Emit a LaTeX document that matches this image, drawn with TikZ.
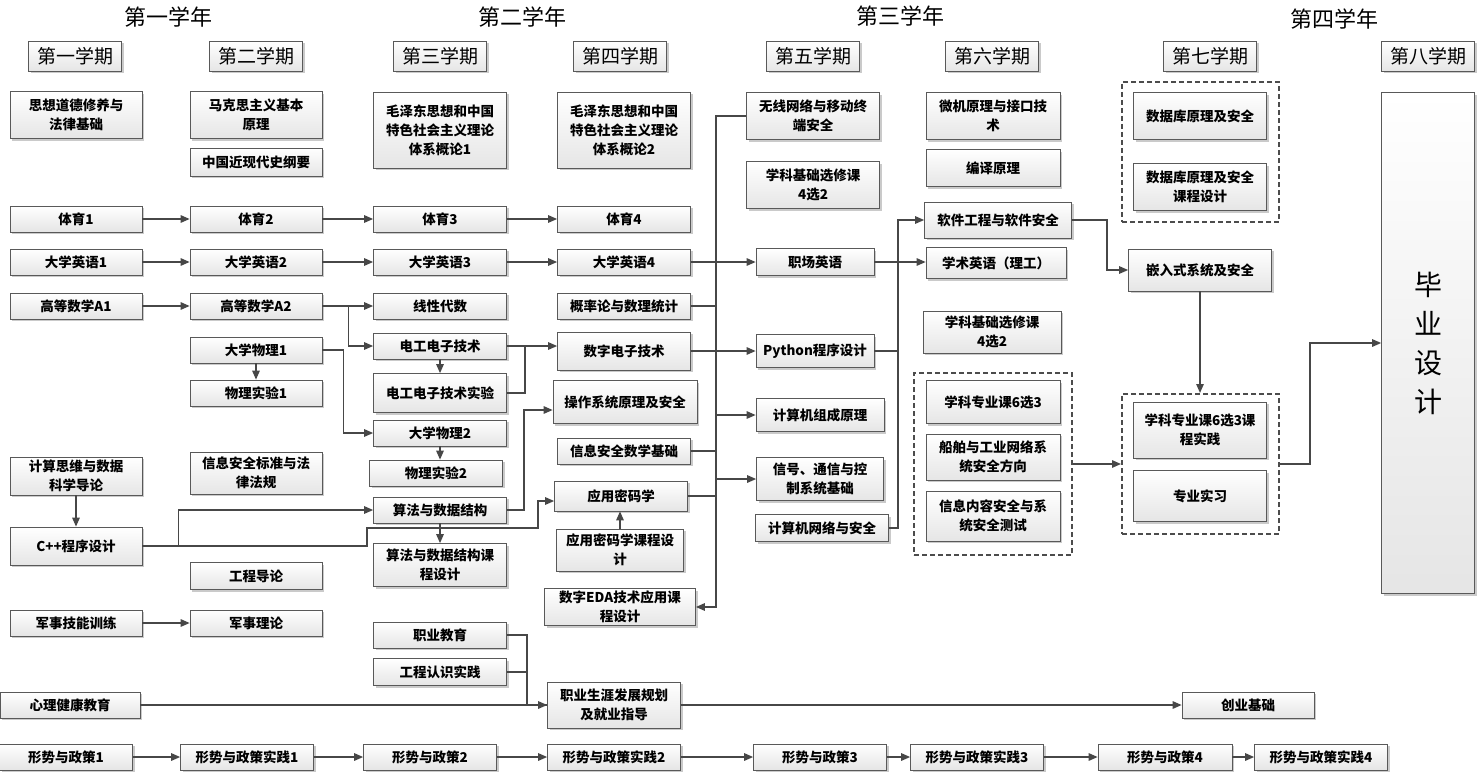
\documentclass[tikz,border=0pt]{standalone}
\usepackage{fontspec}
\setmainfont{Noto Sans CJK SC}
\usetikzlibrary{arrows.meta,shadows}
\begin{document}
\begin{tikzpicture}[x=1pt,y=-1pt,
 cbox/.style={draw=black!65, line width=0.7pt, top color=white, bottom color=black!10,
   drop shadow={shadow xshift=2.2pt,shadow yshift=-2.2pt,fill=black!35,opacity=0.6},
   inner sep=1pt, align=center, font=\fontsize{13.5}{19}\selectfont\bfseries},
 wh/.style 2 args={minimum width=#1pt, minimum height=#2pt},
 sem/.style={cbox, wh={93}{30}, font=\fontsize{19}{22}\selectfont},
 yr/.style={font=\fontsize{22}{24}\selectfont},
 grp/.style={draw=black!70, line width=2pt, dash pattern=on 5pt off 3pt, inner sep=0pt},
 conn/.style={draw=black!72, line width=1.4pt},
 conna/.style={conn, -{Triangle[length=9pt,width=7.5pt]}},
]
\useasboundingbox (0,0) rectangle (1478,773);
% years
\node[yr] (y1) at (168,17) {第一学年};
\node[yr] (y2) at (522,17) {第二学年};
\node[yr] (y3) at (900,16) {第三学年};
\node[yr] (y4) at (1334,19) {第四学年};
% semesters
\node[sem] (s1) at (75,56) {第一学期};
\node[sem] (s2) at (256,56) {第二学期};
\node[sem] (s3) at (440,56) {第三学期};
\node[sem] (s4) at (620,56) {第四学期};
\node[sem] (s5) at (813,56) {第五学期};
\node[sem] (s6) at (992,56) {第六学期};
\node[sem] (s7) at (1210,56) {第七学期};
\node[sem] (s8) at (1428,56) {第八学期};
% groups
\node[grp, wh={158}{182}] (g6) at (993,464) {};
\node[grp, wh={157}{140}] (g7a) at (1200.5,152) {};
\node[grp, wh={157}{140}] (g7b) at (1200.5,464) {};
% column 1
\node[cbox, wh={132}{47}] (c1a) at (76,115) {思想道德修养与\\法律基础};
\node[cbox, wh={132}{26}] (ty1) at (76,219) {体育1};
\node[cbox, wh={132}{26}] (en1) at (76,262) {大学英语1};
\node[cbox, wh={132}{26}] (ma1) at (76,306) {高等数学A1};
\node[cbox, wh={132}{38}] (cs) at (76,476) {计算思维与数据\\科学导论};
\node[cbox, wh={132}{38}] (cpp) at (76,546) {C++程序设计};
\node[cbox, wh={132}{26}] (jx1) at (76,623) {军事技能训练};
\node[cbox, wh={140}{26}] (xl) at (70,705) {心理健康教育};
\node[cbox, wh={133}{26}] (xs1) at (66,757) {形势与政策1};
% column 2
\node[cbox, wh={132}{47}] (mk) at (256,115) {马克思主义基本\\原理};
\node[cbox, wh={132}{28}] (zg) at (256,162) {中国近现代史纲要};
\node[cbox, wh={132}{26}] (ty2) at (256,219) {体育2};
\node[cbox, wh={132}{26}] (en2) at (256,262) {大学英语2};
\node[cbox, wh={132}{26}] (ma2) at (256,306) {高等数学A2};
\node[cbox, wh={132}{26}] (ph1) at (256,350) {大学物理1};
\node[cbox, wh={132}{26}] (pe1) at (256,393) {物理实验1};
\node[cbox, wh={132}{42}] (bz) at (256,473) {信息安全标准与法\\律法规};
\node[cbox, wh={132}{27}] (gc) at (256,576) {工程导论};
\node[cbox, wh={132}{26}] (jx2) at (256,623) {军事理论};
\node[cbox, wh={133}{26}] (xs2) at (247,757) {形势与政策实践1};
% column 3
\node[cbox, wh={133}{76}] (mz1) at (440,130) {毛泽东思想和中国\\特色社会主义理论\\体系概论1};
\node[cbox, wh={133}{26}] (ty3) at (440,219) {体育3};
\node[cbox, wh={133}{26}] (en3) at (440,262) {大学英语3};
\node[cbox, wh={133}{26}] (xd) at (440,306) {线性代数};
\node[cbox, wh={133}{26}] (dg) at (440,346) {电工电子技术};
\node[cbox, wh={133}{39}] (dgs) at (440,393) {电工电子技术实验};
\node[cbox, wh={133}{26}] (ph2) at (440,433) {大学物理2};
\node[cbox, wh={133}{26}] (pe2) at (436,473) {物理实验2};
\node[cbox, wh={133}{26}] (sf) at (440,510) {算法与数据结构};
\node[cbox, wh={133}{43}] (sfk) at (440,565) {算法与数据结构课\\程设计};
\node[cbox, wh={133}{26}] (zy) at (440,635) {职业教育};
\node[cbox, wh={133}{27}] (gcr) at (440,672) {工程认识实践};
\node[cbox, wh={133}{26}] (xs3) at (430,757) {形势与政策2};
% column 4
\node[cbox, wh={133}{76}] (mz2) at (624,130) {毛泽东思想和中国\\特色社会主义理论\\体系概论2};
\node[cbox, wh={133}{26}] (ty4) at (624,219) {体育4};
\node[cbox, wh={133}{26}] (en4) at (624,262) {大学英语4};
\node[cbox, wh={133}{26}] (gl) at (624,306) {概率论与数理统计};
\node[cbox, wh={133}{38}] (sz) at (624,351) {数字电子技术};
\node[cbox, wh={144}{43}] (os) at (625,402) {操作系统原理及安全};
\node[cbox, wh={133}{26}] (xa) at (624,451) {信息安全数学基础};
\node[cbox, wh={133}{30}] (mm) at (621,496) {应用密码学};
\node[cbox, wh={127}{42}] (mmk) at (620,550) {应用密码学课程设\\计};
\node[cbox, wh={151}{37}] (eda) at (620,607) {数字EDA技术应用课\\程设计};
\node[cbox, wh={133}{46}] (zs) at (614,705) {职业生涯发展规划\\及就业指导};
\node[cbox, wh={133}{26}] (xs4) at (614,757) {形势与政策实践2};
% column 5
\node[cbox, wh={133}{47}] (wx) at (813,116) {无线网络与移动终\\端安全};
\node[cbox, wh={133}{47}] (xj1) at (813,185) {学科基础选修课\\4选2};
\node[cbox, wh={118}{27}] (zc) at (815,262) {职场英语};
\node[cbox, wh={118}{33}] (py) at (815,351) {Python程序设计};
\node[cbox, wh={128}{33}] (jz) at (820,415) {计算机组成原理};
\node[cbox, wh={127}{43}] (xh) at (820,479) {信号、通信与控\\制系统基础};
\node[cbox, wh={133}{27}] (wl) at (822,528) {计算机网络与安全};
\node[cbox, wh={133}{26}] (xs5) at (820,757) {形势与政策3};
% column 6
\node[cbox, wh={134}{47}] (wj) at (993,116) {微机原理与接口技\\术};
\node[cbox, wh={134}{37}] (by) at (993,168) {编译原理};
\node[cbox, wh={147}{36}] (rj) at (998,220) {软件工程与软件安全};
\node[cbox, wh={140}{31}] (xsy) at (996,263) {学术英语（理工）};
\node[cbox, wh={138}{42}] (xj2) at (992,332) {学科基础选修课\\4选2};
\node[cbox, wh={134}{43}] (zy6) at (993,402) {学科专业课6选3};
\node[cbox, wh={134}{46}] (cb) at (993,457) {船舶与工业网络系\\统安全方向};
\node[cbox, wh={134}{50}] (xn) at (993,516) {信息内容安全与系\\统安全测试};
\node[cbox, wh={133}{26}] (xs6) at (977,757) {形势与政策实践3};
% column 7
\node[cbox, wh={133}{47}] (db) at (1200,116) {数据库原理及安全};
\node[cbox, wh={133}{47}] (dbk) at (1200,187) {数据库原理及安全\\课程设计};
\node[cbox, wh={143}{42}] (qr) at (1200,270) {嵌入式系统及安全};
\node[cbox, wh={133}{56}] (sj) at (1200,430) {学科专业课6选3课\\程实践};
\node[cbox, wh={133}{51}] (sx) at (1200,496) {专业实习};
\node[cbox, wh={132}{26}] (cy) at (1248,705) {创业基础};
\node[cbox, wh={134}{26}] (xs7) at (1165,757) {形势与政策4};
\node[cbox, wh={133}{26}] (xs8) at (1321,757) {形势与政策实践4};
% column 8
\node[cbox, wh={93}{501}, font=\fontsize{28}{39}\selectfont] (bs) at (1428,343) {毕\\业\\设\\计};
% helper coordinates
\coordinate (bus) at (716,0);
\coordinate (bus2) at (898,0);
\coordinate (jn) at (527,0);
\coordinate (k1) at (367,528);
\coordinate (k2) at (538,528);
% chains
\draw[conna] (ty1) -- (ty2);
\draw[conna] (ty2) -- (ty3);
\draw[conna] (ty3) -- (ty4);
\draw[conna] (en1) -- (en2);
\draw[conna] (en2) -- (en3);
\draw[conna] (en3) -- (en4);
\draw[conna] (en4) -- (zc);
\draw[conna] (zc.east) -- (zc.east -| xsy.west);
\draw[conna] (ma1) -- (ma2);
\draw[conna] (ma2) -- (xd);
\draw[conna] ([xshift=26pt]ma2.east) |- (dg.west);
\draw[conna] (ph1.east) -- ([xshift=21pt]ph1.east) |- (ph2.west);
\draw[conna] (ph1) -- (pe1);
\draw[conna] (cs) -- (cpp);
\draw[conna] (cpp.east) -- ([xshift=36pt]cpp.east) |- (sf.west);
\draw[conna] (cpp.east) -| (k1) -- (k2) |- ([yshift=-5pt]mm.west);
\draw[conna] (dg) -- (dgs);
\draw[conna] (ph2.south) -- (ph2.south |- pe2.north);
\draw[conna] (dg.east) -- (dg.east -| sz.west);
\draw[conn] (dgs.east) -| ([xshift=18pt]dg.east);
\draw[conna] (sf.east) -- ([xshift=17pt]sf.east) |- ([yshift=-8pt]os.west);
\draw[conna] (sf) -- (sfk);
\draw[conna] (mmk.north) -- (mmk.north |- mm.south);
% bus
\draw[conna] (wx.west) -| (bus |- eda.east) -- (eda.east);
\draw[conn] (gl.east) -- (gl.east -| bus);
\draw[conn] (sz.east) -- (sz.east -| bus);
\draw[conn] (xa.east) -- (xa.east -| bus);
\draw[conn] (mm.east) -- (mm.east -| bus);
\draw[conna] (py.west -| bus) -- (py.west);
\draw[conna] (jz.west -| bus) -- (jz.west);
\draw[conna] (xh.west -| bus) -- (xh.west);
% third year
\draw[conna] (wl.east) -- (wl.east -| bus2) |- (rj.west);
\draw[conn] (py.east) -- (py.east -| bus2);
\draw[conna] (rj.east) -- ([xshift=35pt]rj.east) |- (qr.west);
\draw[conna] (qr.south) -- (qr.south |- g7b.north);
\draw[conna] (g6.east) -- (g6.east -| g7b.west);
\draw[conna] (g7b.east) -- ([xshift=30pt]g7b.east) |- (bs.west);
% career
\draw[conn] (zy.east) -- (zy.east -| jn) |- (zs.west);
\draw[conn] (gcr.east) -- (gcr.east -| jn);
\draw[conna] (xl.east) -- (zs.west);
\draw[conna] (zs.east) -- (zs.east -| cy.west);
\draw[conna] (jx1) -- (jx2);
% policy chain
\draw[conna] (xs1) -- (xs2);
\draw[conna] (xs2) -- (xs3);
\draw[conna] (xs3) -- (xs4);
\draw[conna] (xs4) -- (xs5);
\draw[conna] (xs5) -- (xs6);
\draw[conna] (xs6) -- (xs7);
\draw[conna] (xs7) -- (xs8);
\end{tikzpicture}
\end{document}
